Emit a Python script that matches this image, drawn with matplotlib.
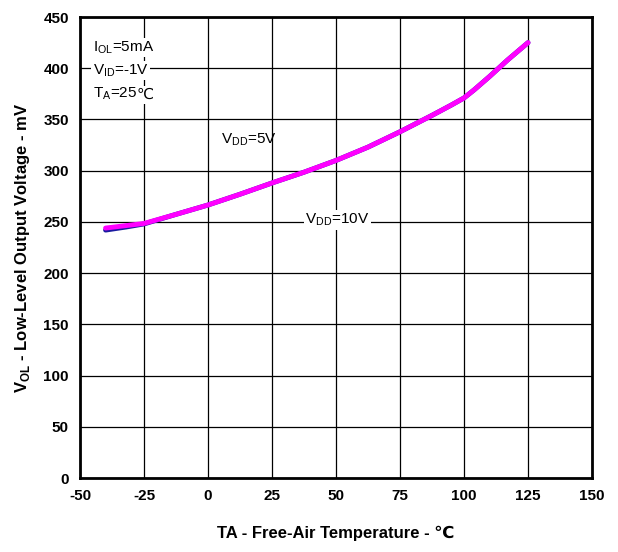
import numpy as np
import matplotlib.pyplot as plt

plt.rcParams['font.family'] = ['Liberation Sans', 'DejaVu Sans']
plt.rcParams['axes.unicode_minus'] = False

# VDD = 5V (magenta) and VDD = 10V (blue, mostly hidden underneath)
temp_5v = [-40, -25, -13, 0, 12.5, 25, 37.5, 50, 62.5, 75, 87.5, 95, 100, 104, 110, 117, 125]
vol_5v = [244, 248.5, 257, 266.5, 277, 288, 298.5, 310, 323, 338, 354, 364, 371, 379, 392, 408, 425]
temp_10v = [-40, -32, -25, -13, 0, 12.5, 25, 37.5, 50, 62.5, 75, 87.5, 95, 100, 104, 110, 117, 125]
vol_10v = [242, 245, 248, 257, 266.5, 277, 288, 298.5, 310, 323, 338, 354, 364, 371, 379, 392, 408, 425]

xticks = [-50, -25, 0, 25, 50, 75, 100, 125, 150]
yticks = [0, 50, 100, 150, 200, 250, 300, 350, 400, 450]

fig = plt.figure(figsize=(6.18, 5.52), dpi=100)
ax = fig.add_axes([0.1294, 0.134, 0.8286, 0.8352])

ax.plot(temp_10v, vol_10v, color='#1a1aa0', lw=3.5, solid_capstyle='round',
        solid_joinstyle='round', zorder=3)
ax.plot(temp_5v, vol_5v, color='#ff00ff', lw=3.5, solid_capstyle='round',
        solid_joinstyle='round', zorder=4)

ax.set_xlim(-50, 150)
ax.set_ylim(0, 450)
ax.set_xticks(xticks)
ax.set_yticks(yticks)
ax.tick_params(length=0, pad=8, labelsize=11)
for lab in ax.get_xticklabels() + ax.get_yticklabels():
    lab.set_fontweight('bold')
ax.grid(True, color='black', lw=0.9)
for s in ax.spines.values():
    s.set_linewidth(2)

ax.set_xlabel('TA - Free-Air Temperature - \u2103', fontsize=12, fontweight='bold', labelpad=16)
ax.set_ylabel('V$_{\\mathregular{OL}}$ - Low-Level Output Voltage - mV', fontsize=12,
              fontweight='bold', labelpad=8)

box = dict(facecolor='white', edgecolor='none', pad=1)
ax.text(-45, 420, 'I$_{\\mathregular{OL}}$=5mA', fontsize=11, bbox=box, va='center')
ax.text(-45, 398, 'V$_{\\mathregular{ID}}$=-1V', fontsize=11, bbox=box, va='center')
t = ax.text(-45, 375, 'T$_{\\mathregular{A}}$=25', fontsize=11, bbox=box, va='center')
ax.annotate('\u2103', xy=(1, 0), xycoords=t, va='bottom', ha='left', fontsize=11,
            family='DejaVu Sans', bbox=box)
ax.text(5, 330, 'V$_{\\mathregular{DD}}$=5V', fontsize=11, va='center')
ax.text(38, 252, 'V$_{\\mathregular{DD}}$=10V', fontsize=11, bbox=box, va='center')

fig.savefig('out.png', dpi=100)
